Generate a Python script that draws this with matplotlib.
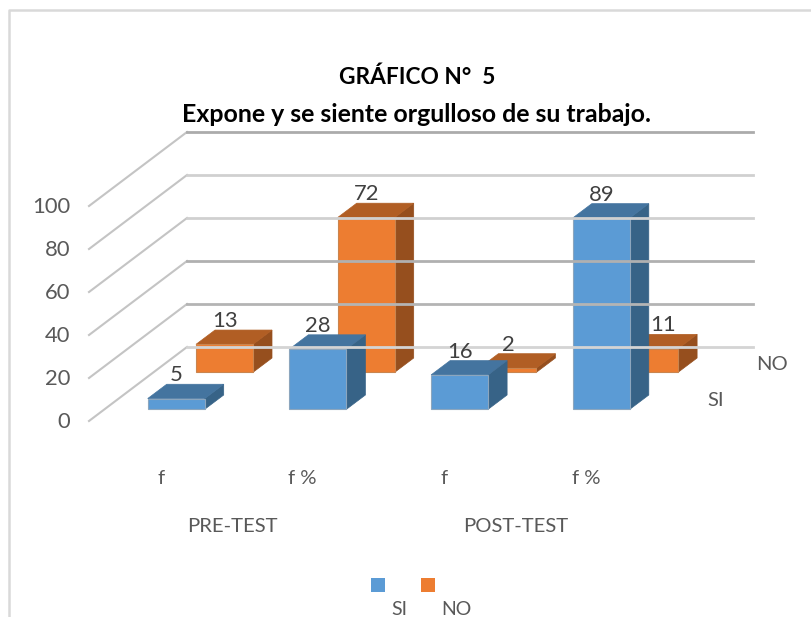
import matplotlib
matplotlib.use('Agg')
import matplotlib.pyplot as plt

# datos del grafico
grupos = ['PRE-TEST', 'POST-TEST']
categorias = ['f', 'f %', 'f', 'f %']
si = [5, 28, 16, 89]
no = [13, 72, 2, 11]
ticks = [0, 20, 40, 60, 80, 100]

# frente, tapa, lateral, borde
azul = ('#5B9BD5', '#44749F', '#376387', '#8CA6BE')
naranja = ('#ED7D31', '#B15E24', '#964F1E', '#C9854F')

# geometria de la caja 3D en pixeles
ESCALA = 2.15      # pixeles por unidad
FRENTE_X, FRENTE_Y = 89, 421
FONDO_X, FONDO_Y = 187, 347
FIN_X = 753
PASO = 141.7
ANCHO = 57
PROF_X, PROF_Y = 19, 14.3

plt.rcParams['font.family'] = ['Lato', 'DejaVu Sans']
fig = plt.figure(figsize=(8.11, 6.17), dpi=100)
ax = fig.add_axes([0, 0, 1, 1])
ax.set_xlim(0, 811)
ax.set_ylim(617, 0)
ax.axis('off')

# marco
ax.plot([9, 9, 811], [617, 10, 10], color='#D9D9D9', lw=1.8)

# rejilla: lineas del fondo y del piso lateral
colores_rejilla = ['#D4D4D4', '#B4B4B4', '#B0B0B0', '#D0D0D0', '#D0D0D0', '#ABABAB']
for t, c in zip(ticks, colores_rejilla):
    h = t * ESCALA
    ax.plot([FRENTE_X, FONDO_X], [FRENTE_Y - h, FONDO_Y - h], color='#C4C4C4', lw=1.5)
    ax.plot([FONDO_X, FIN_X], [FONDO_Y - h, FONDO_Y - h], color=c, lw=2.0)
    ax.text(70, FRENTE_Y - h + 1, str(t), ha='right', va='center', fontsize=15.8, color='#595959')


def barra(x, base, valor, colores):
    arriba = base - valor * ESCALA
    der = x + ANCHO
    # cara lateral, cara superior y frente
    ax.fill([der, der + PROF_X, der + PROF_X, der],
            [base, base - PROF_Y, arriba - PROF_Y, arriba], color=colores[2], lw=0.5)
    ax.fill([x, x + PROF_X, der + PROF_X, der],
            [arriba, arriba - PROF_Y, arriba - PROF_Y, arriba], color=colores[1], lw=0.5)
    ax.fill([x, der, der, x], [base, base, arriba, arriba], facecolor=colores[0],
            edgecolor=colores[3], lw=0.8)


# primero la serie del fondo (NO), luego SI
for i, v in enumerate(no):
    barra(196 + i * PASO, 372.3, v, naranja)
for i, v in enumerate(si):
    barra(147.7 + i * PASO, 409.3, v, azul)

# etiquetas de datos
for i, v in enumerate(si):
    ax.text(176.5 + i * PASO, 409.3 - v * ESCALA - PROF_Y - 9, str(v),
            ha='center', va='center', fontsize=15.8, color='#404040')
for i, v in enumerate(no):
    extra = 13 if v == 11 else 0
    ax.text(225 + i * PASO + extra, 372.3 - v * ESCALA - PROF_Y - 9, str(v),
            ha='center', va='center', fontsize=15.8, color='#404040')

# ejes
for i, c in enumerate(categorias):
    ax.text(161 + i * PASO, 479, c, ha='center', va='center', fontsize=14.6, color='#595959')
for i, g in enumerate(grupos):
    ax.text(232 + i * 2 * PASO, 526, g, ha='center', va='center', fontsize=14.6, color='#595959')
ax.text(716, 401, 'SI', ha='center', va='center', fontsize=14.6, color='#595959')
ax.text(772, 365, 'NO', ha='center', va='center', fontsize=14.6, color='#595959')

# leyenda
ax.fill([371, 385, 385, 371], [578, 578, 592, 592], color=azul[0], lw=0)
ax.fill([421, 435, 435, 421], [578, 578, 592, 592], color=naranja[0], lw=0)
ax.text(399, 615, 'SI', ha='center', va='baseline', fontsize=14, color='#595959')
ax.text(456, 615, 'NO', ha='center', va='baseline', fontsize=14, color='#595959')

# titulo
ax.text(417, 77, 'GRÁFICO N°  5', ha='center', va='center', fontsize=16.3, fontweight='bold', color='black')
ax.text(417, 114, 'Expone y se siente orgulloso de su trabajo.', ha='center', va='center',
        fontsize=17.9, fontweight='bold', color='black')

fig.savefig('out.png', dpi=100)
